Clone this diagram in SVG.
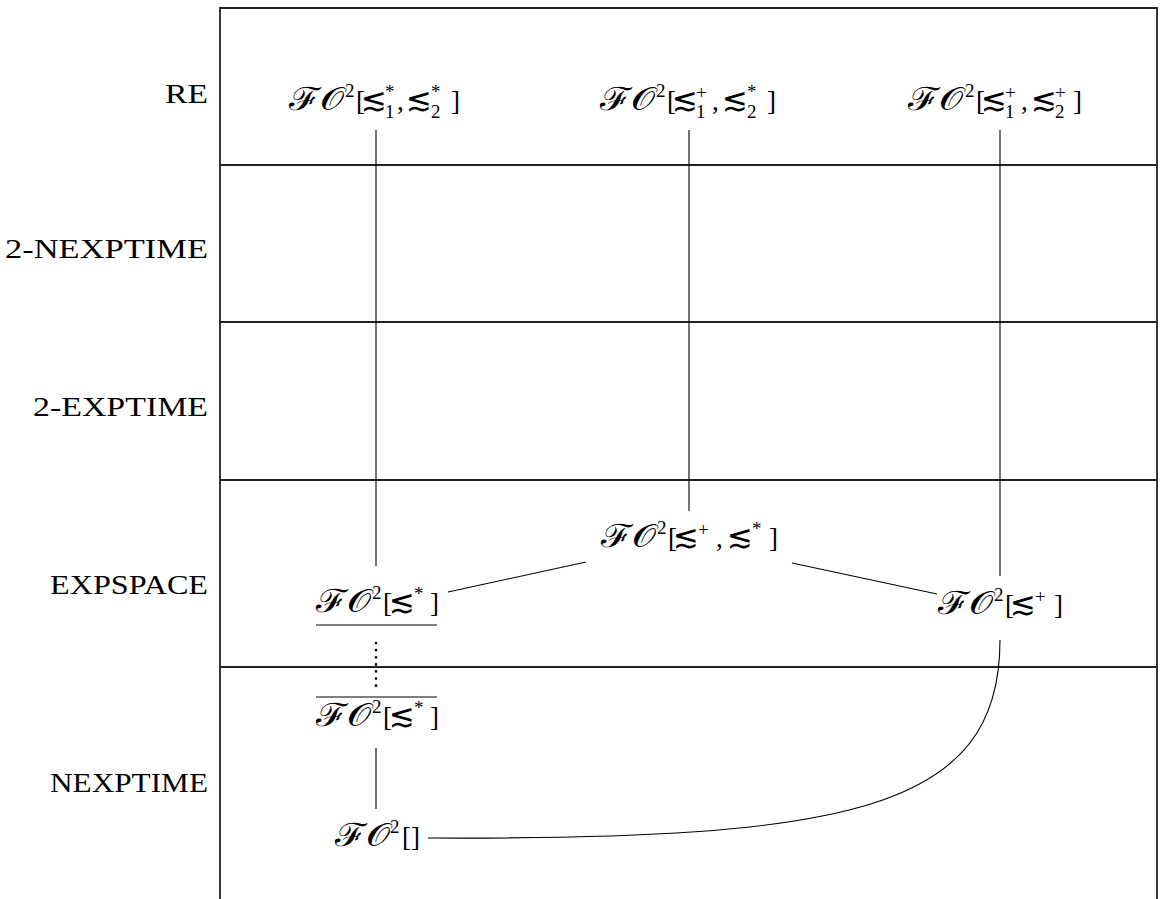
<svg xmlns="http://www.w3.org/2000/svg" width="1160" height="899" viewBox="0 0 1160 899">
<style>
.frame{stroke:#222;stroke-width:1.8;fill:none}
.edge{stroke:#000;stroke-width:1.1;fill:none}
.dots{stroke:#000;stroke-width:2.6;stroke-linecap:round;stroke-dasharray:0.1,7;fill:none}
.lbl{font-family:"Liberation Serif","DejaVu Serif",serif;font-size:27px;fill:#000;text-anchor:end}
.m{font-family:"Liberation Serif","DejaVu Serif",serif;font-size:27px;fill:#000}
.sc{font-family:"DejaVu Serif","Liberation Serif",serif;font-size:32px}
.rel{font-family:"DejaVu Sans",sans-serif;font-size:31px}
.s{font-size:19px}
</style>
<rect width="1160" height="899" fill="#fff"/>
<g id="frame">
<path class="frame" d="M220,899 V8 H1157 V899"/>
<path class="frame" d="M220,165 H1157 M220,322 H1157 M220,480 H1157 M220,667 H1157"/>
</g>
<g id="labels">
<text class="lbl" x="208" y="103" textLength="43" lengthAdjust="spacingAndGlyphs">RE</text>
<text class="lbl" x="208" y="258" textLength="203" lengthAdjust="spacingAndGlyphs">2-NEXPTIME</text>
<text class="lbl" x="208" y="416" textLength="175" lengthAdjust="spacingAndGlyphs">2-EXPTIME</text>
<text class="lbl" x="208" y="594" textLength="158" lengthAdjust="spacingAndGlyphs">EXPSPACE</text>
<text class="lbl" x="208" y="792" textLength="158" lengthAdjust="spacingAndGlyphs">NEXPTIME</text>
</g>
<g id="connectors">
<line class="edge" x1="376" y1="130" x2="376" y2="566"/>
<line class="edge" x1="689" y1="130" x2="689" y2="511"/>
<line class="edge" x1="1000" y1="130" x2="1000" y2="576"/>
<line class="edge" x1="448" y1="592" x2="586" y2="562"/>
<line class="edge" x1="792" y1="563" x2="937" y2="594"/>
<line class="dots" x1="376" y1="643" x2="376" y2="686"/>
<line class="edge" x1="376" y1="748" x2="376" y2="809"/>
<path class="edge" d="M428,838 C850,840 1000,810 1000,640"/>
</g>
<g id="n1">
<text class="m" y="110"><tspan class="sc" x="289" textLength="55" lengthAdjust="spacingAndGlyphs">ℱ𝒪</tspan><tspan class="s" x="345" y="97">2</tspan><tspan x="356" y="110">[</tspan><tspan class="rel" x="361" y="110">≲</tspan><tspan class="s" x="385" y="98">*</tspan><tspan class="s" x="385" y="118">1</tspan><tspan x="397" y="110">,</tspan><tspan class="rel" x="406" y="110">≲</tspan><tspan class="s" x="431" y="98">*</tspan><tspan class="s" x="431" y="118">2</tspan><tspan x="451" y="110">]</tspan></text>
</g>
<g id="n2">
<text class="m" y="110"><tspan class="sc" x="600" textLength="55" lengthAdjust="spacingAndGlyphs">ℱ𝒪</tspan><tspan class="s" x="656" y="97">2</tspan><tspan x="667" y="110">[</tspan><tspan class="rel" x="672" y="110">≲</tspan><tspan class="s" x="696" y="99">+</tspan><tspan class="s" x="696" y="118">1</tspan><tspan x="712" y="110">,</tspan><tspan class="rel" x="722" y="110">≲</tspan><tspan class="s" x="747" y="98">*</tspan><tspan class="s" x="747" y="118">2</tspan><tspan x="767" y="110">]</tspan></text>
</g>
<g id="n3">
<text class="m" y="110"><tspan class="sc" x="908" textLength="55" lengthAdjust="spacingAndGlyphs">ℱ𝒪</tspan><tspan class="s" x="965" y="97">2</tspan><tspan x="976" y="110">[</tspan><tspan class="rel" x="981" y="110">≲</tspan><tspan class="s" x="1005" y="99">+</tspan><tspan class="s" x="1005" y="118">1</tspan><tspan x="1021" y="110">,</tspan><tspan class="rel" x="1031" y="110">≲</tspan><tspan class="s" x="1055" y="99">+</tspan><tspan class="s" x="1055" y="118">2</tspan><tspan x="1073" y="110">]</tspan></text>
</g>
<g id="n4">
<text class="m" y="547"><tspan class="sc" x="601" textLength="55" lengthAdjust="spacingAndGlyphs">ℱ𝒪</tspan><tspan class="s" x="657" y="534">2</tspan><tspan x="668" y="547">[</tspan><tspan class="rel" x="673" y="547">≲</tspan><tspan class="s" x="698" y="536">+</tspan><tspan x="716" y="547">,</tspan><tspan class="rel" x="727" y="547">≲</tspan><tspan class="s" x="752" y="535">*</tspan><tspan x="769" y="547">]</tspan></text>
</g>
<g id="n5">
<text class="m" y="612"><tspan class="sc" x="316" textLength="55" lengthAdjust="spacingAndGlyphs">ℱ𝒪</tspan><tspan class="s" x="372" y="599">2</tspan><tspan x="383" y="612">[</tspan><tspan class="rel" x="389" y="612">≲</tspan><tspan class="s" x="414" y="600">*</tspan><tspan x="430" y="612">]</tspan></text>
<line class="edge" x1="316" y1="625" x2="437" y2="625"/>
</g>
<g id="n6">
<text class="m" y="726"><tspan class="sc" x="316" textLength="55" lengthAdjust="spacingAndGlyphs">ℱ𝒪</tspan><tspan class="s" x="372" y="713">2</tspan><tspan x="383" y="726">[</tspan><tspan class="rel" x="389" y="726">≲</tspan><tspan class="s" x="414" y="714">*</tspan><tspan x="430" y="726">]</tspan></text>
<line class="edge" x1="316" y1="697" x2="437" y2="697"/>
</g>
<g id="n7">
<text class="m" y="614"><tspan class="sc" x="938" textLength="55" lengthAdjust="spacingAndGlyphs">ℱ𝒪</tspan><tspan class="s" x="994" y="601">2</tspan><tspan x="1005" y="614">[</tspan><tspan class="rel" x="1010" y="614">≲</tspan><tspan class="s" x="1035" y="603">+</tspan><tspan x="1054" y="614">]</tspan></text>
</g>
<g id="n8">
<text class="m" y="846"><tspan class="sc" x="335" textLength="55" lengthAdjust="spacingAndGlyphs">ℱ𝒪</tspan><tspan class="s" x="390" y="833">2</tspan><tspan x="402" y="846">[]</tspan></text>
</g>
</svg>
